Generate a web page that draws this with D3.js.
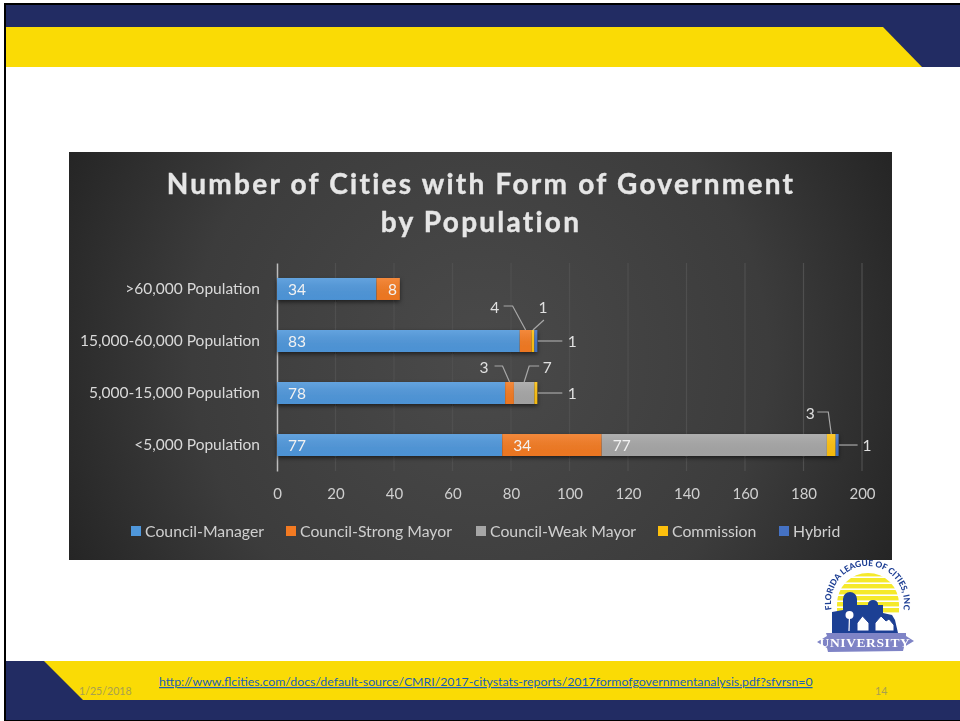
<!DOCTYPE html>
<html>
<head>
<meta charset="utf-8">
<script src="https://cdn.jsdelivr.net/npm/d3@7"></script>
<style>
	html, body { margin: 0; padding: 0; background: #fff; }
	svg { display: block; }
	text { font-family: Lato, "Open Sans", sans-serif; }
</style>
</head>
<body>
<svg id="slide" width="960" height="721"></svg>
<script>
// Data
const categories = [">60,000 Population", "15,000-60,000 Population", "5,000-15,000 Population", "<5,000 Population"];
const seriesNames = ["Council-Manager", "Council-Strong Mayor", "Council-Weak Mayor", "Commission", "Hybrid"];
const councilManager = [34, 83, 78, 77];
const councilStrongMayor = [8, 4, 3, 34];
const councilWeakMayor = [0, 0, 7, 77];
const commission = [0, 1, 1, 3];
const hybrid = [0, 1, 0, 1];
const xTicks = [0, 20, 40, 60, 80, 100, 120, 140, 160, 180, 200];
const titleLines = ["Number of Cities with Form of Government", "by Population"];
const footerDate = "1/25/2018";
const footerUrl = "http://www.flcities.com/docs/default-source/CMRI/2017-citystats-reports/2017formofgovernmentanalysis.pdf?sfvrsn=0";
const footerPage = "14";

const seriesValues = [councilManager, councilStrongMayor, councilWeakMayor, commission, hybrid];
const colors = ["#4f97db", "#f37a22", "#a6a6a6", "#fdc010", "#4472c4"];
const legendX = [131, 286, 476, 658, 779];

const navy = "#222c63";
const gold = "#fadb05";

const svg = d3.select("#slide");
const defs = svg.append("defs");

// Slide frame
svg.append("rect").attr("x", 4).attr("y", 3).attr("width", 956).attr("height", 718).attr("fill", "#000");
svg.append("rect").attr("x", 6).attr("y", 5).attr("width", 954).attr("height", 715).attr("fill", "#fff");
svg.append("rect").attr("x", 6).attr("y", 5).attr("width", 954).attr("height", 62).attr("fill", navy);
svg.append("path").attr("d", "M6,27H883L922,67H6Z").attr("fill", gold);
svg.append("rect").attr("x", 6).attr("y", 661).attr("width", 954).attr("height", 59).attr("fill", navy);
svg.append("path").attr("d", "M44,661H960V700H83Z").attr("fill", gold);

// Chart panel
const panelGrad = defs.append("radialGradient").attr("id", "panelGrad")
	.attr("gradientUnits", "userSpaceOnUse")
	.attr("cx", 480).attr("cy", 356).attr("r", 480);
panelGrad.append("stop").attr("offset", "0").attr("stop-color", "#4a4a4a");
panelGrad.append("stop").attr("offset", "0.6").attr("stop-color", "#3c3c3c");
panelGrad.append("stop").attr("offset", "1").attr("stop-color", "#222");
svg.append("rect").attr("x", 69).attr("y", 152).attr("width", 823).attr("height", 408).attr("fill", "url(#panelGrad)");

const soft = defs.append("filter").attr("id", "soft").attr("x", "-5%").attr("y", "-5%").attr("width", "110%").attr("height", "110%");
soft.append("feGaussianBlur").attr("stdDeviation", 0.45);

const barGrad = defs.append("linearGradient").attr("id", "barShade").attr("x1", 0).attr("y1", 0).attr("x2", 0).attr("y2", 1);
barGrad.append("stop").attr("offset", "0").attr("stop-color", "#fff").attr("stop-opacity", 0.12);
barGrad.append("stop").attr("offset", "1").attr("stop-color", "#000").attr("stop-opacity", 0.03);

const chart = svg.append("g").attr("filter", "url(#soft)");

const x = d3.scaleLinear().domain([0, 200]).range([277, 862]);
const y = d3.scaleBand().domain(categories).range([263, 471]).paddingInner(0.577).paddingOuter(0.288);

// Title
chart.append("g").selectAll("text").data(titleLines).join("text")
	.attr("x", 481)
	.attr("y", (d, i) => 194 + i * 37.5)
	.attr("text-anchor", "middle")
	.attr("fill", "#e6e6e6")
	.attr("stroke", "#e6e6e6")
	.attr("stroke-width", 0.4)
	.attr("font-size", 28)
	.attr("font-weight", 700)
	.attr("letter-spacing", 2.25)
	.text(d => d);

// Gridlines
chart.append("g").selectAll("line").data(xTicks.slice(1)).join("line")
	.attr("x1", d => x(d)).attr("x2", d => x(d))
	.attr("y1", 263).attr("y2", 471)
	.attr("stroke", "#505050").attr("stroke-width", 1.2);

// X axis
const xAxis = chart.append("g")
	.attr("transform", "translate(0,471)")
	.call(d3.axisBottom(x).tickValues(xTicks).tickSize(0).tickPadding(17));
xAxis.select(".domain").remove();
xAxis.selectAll("text").attr("fill", "#cfcfcf").attr("font-size", 15);

// Y axis
const yAxis = chart.append("g")
	.attr("transform", "translate(277,0)")
	.call(d3.axisLeft(y).tickSize(0).tickPadding(17));
yAxis.select(".domain").attr("stroke", "#bdbdbd").attr("stroke-width", 1.5);
yAxis.selectAll("text").attr("fill", "#d9d9d9").attr("font-size", 15.5);

// Stacked bars
const rows = categories.map((c, r) => {
	let sum = 0;
	return seriesValues.map((vals, s) => {
		const seg = { category: c, row: r, series: s, value: vals[r], x0: sum, x1: sum + vals[r] };
		sum += vals[r];
		return seg;
	});
});
const segments = rows.flat().filter(d => d.value > 0);

const bars = chart.append("g").style("filter", "drop-shadow(0 2px 2px rgba(0,0,0,0.55))");
bars.selectAll("rect.seg").data(segments).join("rect")
	.attr("class", "seg")
	.attr("x", d => x(d.x0))
	.attr("y", d => y(d.category))
	.attr("width", d => x(d.x1) - x(d.x0))
	.attr("height", y.bandwidth())
	.attr("fill", d => colors[d.series]);
bars.selectAll("rect.shade").data(segments).join("rect")
	.attr("class", "shade")
	.attr("x", d => x(d.x0))
	.attr("y", d => y(d.category))
	.attr("width", d => x(d.x1) - x(d.x0))
	.attr("height", y.bandwidth())
	.attr("fill", "url(#barShade)");

// Labels that sit inside the bar
const wide = segments.filter(d => d.value >= 8);
chart.append("g").selectAll("text").data(wide).join("text")
	.attr("x", d => d.value === 8 ? x(d.x0) + 16 : x(d.x0) + 20)
	.attr("y", d => y(d.category) + y.bandwidth() / 2)
	.attr("dy", "0.36em")
	.attr("text-anchor", "middle")
	.attr("fill", "#f2f2f2")
	.attr("font-size", 15.5)
	.text(d => d.value);

// Callouts for thin segments: [row, series, kind]
const callouts = [
	[1, 1, "upLeft"], [1, 3, "upRightShort"], [1, 4, "right"],
	[2, 1, "upLeftLow"], [2, 2, "upRight"], [2, 3, "right"],
	[3, 3, "upLeftTall"], [3, 4, "rightShort"]
];
const calloutGeom = {
	upLeft: { pts: [[-22, -24], [-13, -24], [0, 0]], label: [-31, -23] },
	upLeftLow: { pts: [[-15, -16], [-7, -16], [0, 0]], label: [-25.5, -15] },
	upRightShort: { pts: [[11, -10], [0, 0]], label: [10, -23] },
	upRight: { pts: [[15, -16], [5, -16], [0, 0]], label: [23, -15] },
	upLeftTall: { pts: [[-14, -22], [-3, -22], [0, 0]], label: [-21, -21] },
	right: { pts: [[0.5, 0], [25, 0]], label: [35, 0] },
	rightShort: { pts: [[0.5, 0], [19, 0]], label: [28.5, 0] }
};
const leaders = chart.append("g");
callouts.forEach(c => {
	const seg = rows[c[0]][c[1]];
	const g = calloutGeom[c[2]];
	const isRight = c[2].startsWith("right");
	const ax = isRight ? x(seg.x1) : x((seg.x0 + seg.x1) / 2);
	const ay = isRight ? y(seg.category) + y.bandwidth() / 2 : y(seg.category);
	leaders.append("path")
		.attr("d", d3.line()(g.pts.map(p => [ax + p[0], ay + p[1]])))
		.attr("fill", "none").attr("stroke", "#a8a8a8").attr("stroke-width", 1.2);
	leaders.append("text")
		.attr("x", ax + g.label[0]).attr("y", ay + g.label[1])
		.attr("dy", "0.36em").attr("text-anchor", "middle")
		.attr("fill", "#e0e0e0").attr("font-size", 15.5)
		.text(seg.value);
});

// Legend
const legend = chart.append("g").selectAll("g").data(seriesNames).join("g")
	.attr("transform", (d, i) => `translate(${legendX[i]},531)`);
legend.append("rect").attr("x", 0).attr("y", -5).attr("width", 10).attr("height", 10)
	.attr("fill", (d, i) => colors[i]);
legend.append("text").attr("x", 14).attr("dy", "0.36em")
	.attr("fill", "#cfcfcf").attr("font-size", 15.8)
	.text(d => d);

// Footer
svg.append("text").attr("x", 79).attr("y", 695).attr("font-size", 10.6).attr("fill", "#a8a050").text(footerDate);
svg.append("text").attr("x", 159).attr("y", 686).attr("font-size", 12.3).attr("fill", "#1a5fb4")
	.attr("text-decoration", "underline").text(footerUrl);
svg.append("text").attr("x", 875).attr("y", 695).attr("font-size", 10.6).attr("fill", "#a8a050").text(footerPage);

// Logo
const logo = svg.append("g").attr("filter", "url(#soft)");
const logoBlue = "#1f3f94";
defs.append("clipPath").attr("id", "sunClip")
	.append("path").attr("d", "M837,604A31,31 0 0 1 899,604V614H837Z");
const stripes = logo.append("g").attr("clip-path", "url(#sunClip)");
d3.range(0, 7).forEach(i => {
	stripes.append("rect").attr("x", 830).attr("y", 572 + i * 6).attr("width", 76).attr("height", 4.4).attr("fill", "#f5e92c");
});
logo.append("path").attr("fill", logoBlue).attr("d",
	"M832,633V612L843,610V599A6.5,6.5 0 0 1 857,599V605H868V604A5,4 0 0 1 878,604V605H883V613L892,615L895,620L898,633Z");
logo.append("path").attr("stroke", "#fff").attr("stroke-width", 1.2).attr("d", "M849,631L849.5,616");
logo.append("circle").attr("cx", 849.5).attr("cy", 615).attr("r", 4).attr("fill", "#fff");
logo.append("path").attr("fill", "#fff").attr("stroke", logoBlue).attr("stroke-width", 1)
	.attr("d", "M857,623L862.5,616L869,623V631H857Z");
logo.append("path").attr("fill", "#fff").attr("stroke", logoBlue).attr("stroke-width", 1)
	.attr("d", "M875,623L881,616L886,621L889,619L894,625V631H875Z");
logo.append("path").attr("d", "M817,642L827,636L826,633H906V636L914,641L904,647L903,651L828,652L827,648Z").attr("fill", "#7f84c6");
logo.append("text").attr("x", 865).attr("y", 647).attr("text-anchor", "middle")
	.attr("font-size", 13.5).attr("font-weight", 700).attr("fill", "#fff")
	.style("font-family", "'Liberation Serif', serif").attr("letter-spacing", 0.6).text("UNIVERSITY");
defs.append("path").attr("id", "logoArc").attr("d", "M832,611A36.5,36.5 0 1 1 903,611");
logo.append("text").attr("font-size", 8.4).attr("font-weight", 900).attr("fill", logoBlue)
	.append("textPath").attr("href", "#logoArc").attr("startOffset", "50%").attr("text-anchor", "middle")
	.text("FLORIDA LEAGUE OF CITIES, INC");
</script>
</body>
</html>
